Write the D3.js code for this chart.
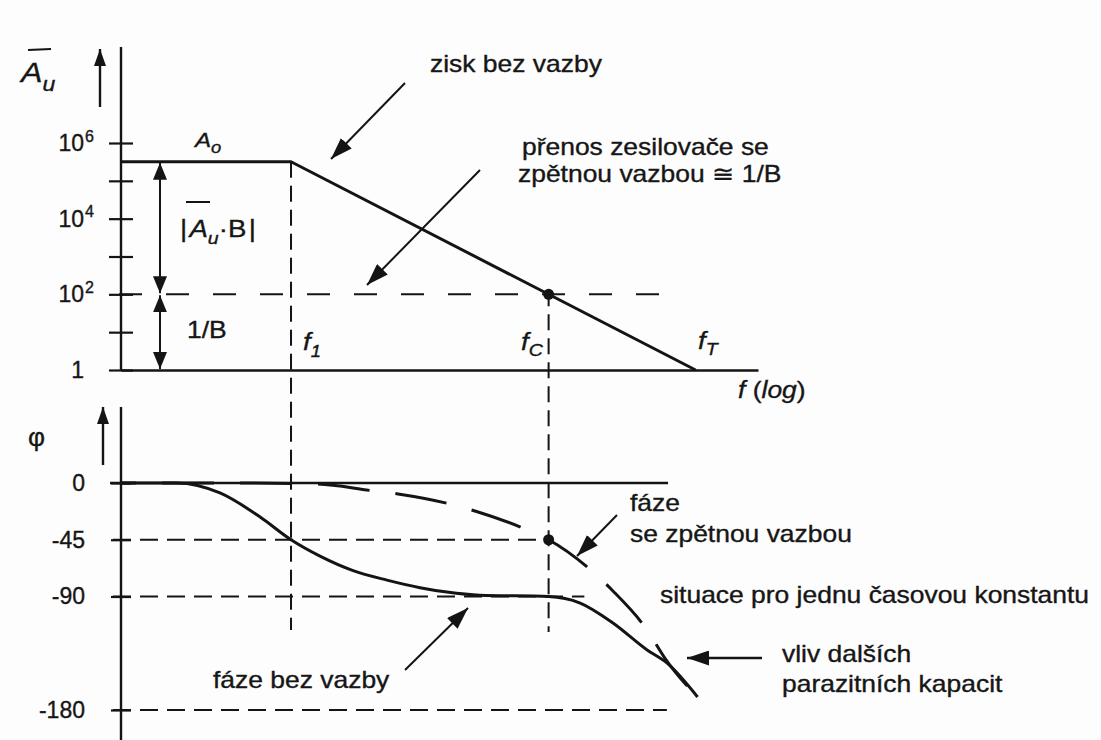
<!DOCTYPE html>
<html>
<head>
<meta charset="utf-8">
<script src="https://cdn.jsdelivr.net/npm/d3@7"></script>
<style>
  html, body { margin: 0; padding: 0; background: #fdfdfd; }
  svg { display: block; }
  text { font-family: "Liberation Sans", Arial, Helvetica, sans-serif; fill: #161616; stroke: #161616; stroke-width: 0.35px; }
</style>
</head>
<body>
<svg id="chart" width="1101" height="740"></svg>
<script>
// ---- characteristic frequencies and gains (log-frequency Bode sketch) ----
const fMin = 0.486;          // left end of the frequency axis
const fMax = 2.26e8;         // right end of the frequency axis
const f1 = 100;              // open-loop pole
const fC = 3.2e5;            // crossing with the 1/B line
const fT = 3.2e7;            // unity-gain frequency
const A0 = 3.2e5;            // open-loop DC gain
const invB = 100;            // closed-loop gain 1/B

// open-loop magnitude |Au|
const gainFreq  = [fMin, f1, fT];
const gainValue = [A0,   A0, 1];

// gain axis ticks (every decade, labels on even decades)
const gainTicks     = [1, 10, 100, 1e3, 1e4, 1e5, 1e6];
const gainLabelBase = ["1", "", "10", "", "10", "", "10"];
const gainLabelExp  = ["",  "", "2",  "", "4",  "", "6"];

// phase axis ticks
const phaseTicks  = [0, -45, -90, -180];
const phaseLabels = ["0", "-45", "-90", "-180"];

// open-loop phase (solid curve)
const phaseOpenFreq  = [0.486, 2.8, 10.8, 38,  100, 248, 700,   2020, 5690, 13200, 37200, 3.2e5, 8.6e5, 2.4e6, 7.0e6,  1.3e7,  3.4e7];
const phaseOpenValue = [0,     0,   -7.9, -27, -45, -58, -69.5, -77,  -83,  -86.5, -89,   -90,   -95.2, -111,  -132.4, -142.7, -169.7];

// closed-loop phase (dashed curve)
const phaseFbFreq  = [0.486, 28, 233,  1190, 2860, 14600, 31800, 1.53e5, 3.2e5, 1.24e6, 2.4e6, 7.0e6,  1.22e7, 3.4e7];
const phaseFbValue = [0,     0,  -0.8, -5.9, -8.7, -16.7, -22.2, -36.5,  -45,   -69.8,  -85.6, -116.6, -138.8, -169.7];

// extents of guide lines
const invBLineEnd   = 1.35e7;
const zeroLineEnd   = 1.35e7;
const m45LineEnd    = fC;
const m90LineEnd    = 9.8e5;
const m180LineEnd   = 1.3e7;
const guidePhaseEnd = -116.5;

// ---- scales ----
const svg = d3.select("#chart");
const ink = "#141414";

const x  = d3.scaleLog().domain([fMin, fMax]).range([121, 758]);
const y1 = d3.scaleLog().domain([1, 1e6]).range([370, 143]);
const y2 = d3.scaleLinear().domain([0, -180]).range([483, 710]);
const axisX = x.range()[0];

// ---- arrowhead markers ----
const defs = svg.append("defs");
function marker(id, len, wid) {
  defs.append("marker")
    .attr("id", id)
    .attr("markerUnits", "userSpaceOnUse")
    .attr("viewBox", `0 0 ${len} ${wid}`)
    .attr("markerWidth", len).attr("markerHeight", wid)
    .attr("refX", len).attr("refY", wid / 2)
    .attr("orient", "auto-start-reverse")
    .append("path")
    .attr("d", `M0,0L${len},${wid / 2}L0,${wid}Z`)
    .attr("fill", ink);
}
marker("headBig", 22, 15);
marker("headMid", 17, 14);
marker("headAxis", 17, 12);

function arrow(x1, yA, x2, yB, head, both, w) {
  const l = svg.append("line")
    .attr("x1", x1).attr("y1", yA).attr("x2", x2).attr("y2", yB)
    .attr("stroke", ink).attr("stroke-width", w || 2)
    .attr("marker-end", `url(#${head})`);
  if (both) l.attr("marker-start", `url(#${head})`);
  return l;
}

function richText(px, py, parts, size, sx) {
  const t = svg.append("text")
    .attr("transform", `translate(${px},${py}) scale(${sx === undefined ? 1.15 : sx},1)`)
    .attr("font-size", size);
  let shift = 0;
  parts.forEach(p => {
    const s = t.append("tspan").text(p.t);
    const target = p.dy || 0;
    s.attr("dy", target - shift);
    shift = target;
    if (p.it) s.attr("font-style", "italic");
    if (p.fs) s.attr("font-size", p.fs);
    if (p.dx) s.attr("dx", p.dx);
  });
  return t;
}

// ================= MAGNITUDE PANEL =================
// vertical axis line and ticks
svg.append("line")
  .attr("x1", axisX).attr("x2", axisX).attr("y1", 47).attr("y2", y1(1))
  .attr("stroke", ink).attr("stroke-width", 2.4);

const gAxis = svg.append("g")
  .attr("transform", `translate(${axisX},0)`)
  .call(d3.axisLeft(y1).tickValues(gainTicks).tickSize(12).tickPadding(25)
        .tickFormat((d, i) => gainLabelBase[i]));
gAxis.select(".domain").remove();
gAxis.attr("font-family", null).attr("font-size", 23);
gAxis.selectAll(".tick line").attr("x1", 12).attr("stroke", ink).attr("stroke-width", 2.2);
gAxis.selectAll(".tick text").attr("fill", ink);
gAxis.selectAll(".tick").each(function (d, i) {
  if (gainLabelExp[i]) {
    d3.select(this).append("text")
      .attr("x", -36).attr("dy", "-0.12em")
      .attr("font-size", 16).attr("fill", ink)
      .attr("text-anchor", "start")
      .text(gainLabelExp[i]);
  }
});

// frequency axis
svg.append("g")
  .attr("transform", `translate(0,${y1(1)})`)
  .call(d3.axisBottom(x).tickValues([]).tickSizeOuter(0))
  .select(".domain").attr("stroke", ink).attr("stroke-width", 2.4);

// guide lines
svg.append("line")
  .attr("x1", axisX - 11).attr("x2", x(invBLineEnd))
  .attr("y1", y1(invB)).attr("y2", y1(invB))
  .attr("stroke", ink).attr("stroke-width", 2)
  .attr("stroke-dasharray", "23 24").attr("stroke-dashoffset", -56);

svg.append("line")
  .attr("x1", x(f1)).attr("x2", x(f1))
  .attr("y1", y1(A0)).attr("y2", y2(guidePhaseEnd))
  .attr("stroke", ink).attr("stroke-width", 2)
  .attr("stroke-dasharray", "16 8");

svg.append("line")
  .attr("x1", x(fC)).attr("x2", x(fC))
  .attr("y1", y1(invB)).attr("y2", y2(guidePhaseEnd) + 2)
  .attr("stroke", ink).attr("stroke-width", 2)
  .attr("stroke-dasharray", "16 8").attr("stroke-dashoffset", 4);

// open-loop gain curve
svg.append("path")
  .datum(gainFreq.map((f, i) => [f, gainValue[i]]))
  .attr("d", d3.line().x(d => x(d[0])).y(d => y1(d[1])))
  .attr("fill", "none").attr("stroke", ink).attr("stroke-width", 3)
  .attr("stroke-linejoin", "round");

svg.append("circle")
  .attr("cx", x(fC)).attr("cy", y1(invB)).attr("r", 5.5).attr("fill", ink);

// loop gain / 1/B dimension arrows
const dimX = 160;
arrow(dimX, y1(A0) + 1, dimX, y1(invB) - 1, "headMid", true, 2);
arrow(dimX, y1(invB) + 1, dimX, y1(1) - 1, "headMid", true, 2);

// axis arrow and label
arrow(100, 107, 100, 49, "headAxis", false, 2.4);
richText(21, 82, [{ t: "A", it: true }, { t: "u", it: true, fs: 20, dy: 9 }], 28);
svg.append("line").attr("x1", 28).attr("x2", 51).attr("y1", 50).attr("y2", 49)
  .attr("stroke", ink).attr("stroke-width", 2.2);

// labels
richText(195, 147, [{ t: "A", it: true }, { t: "o", it: true, fs: 16, dy: 6 }], 21);
richText(180, 237, [{ t: "|" }, { t: "A", it: true, dx: 2 }, { t: "u", it: true, fs: 17, dy: 7 },
                    { t: "·", dy: 0 }, { t: "B" }, { t: "|", dx: 2 }], 24);
svg.append("line").attr("x1", 186).attr("x2", 210).attr("y1", 202).attr("y2", 202)
  .attr("stroke", ink).attr("stroke-width", 2);
richText(187, 338, [{ t: "1/B" }], 23);

richText(303, 350, [{ t: "f", it: true }, { t: "1", it: true, fs: 16, dy: 7 }], 24);
richText(521, 350, [{ t: "f", it: true }, { t: "C", it: true, fs: 17, dy: 6 }], 24);
richText(698, 349, [{ t: "f", it: true }, { t: "T", it: true, fs: 17, dy: 6 }], 24);
richText(738, 398, [{ t: "f", it: true }, { t: " (" }, { t: "log", it: true }, { t: ")" }], 23);

richText(430, 72, [{ t: "zisk bez vazby" }], 23);
arrow(405, 83, 331, 159, "headBig", false, 2);
richText(522, 155, [{ t: "přenos zesilovače se" }], 23);
richText(518, 182, [{ t: "zpětnou vazbou ≅ 1/B" }], 23);
arrow(480, 170, 367, 285, "headBig", false, 2);

// ================= PHASE PANEL =================
svg.append("line")
  .attr("x1", axisX).attr("x2", axisX).attr("y1", 407).attr("y2", 740)
  .attr("stroke", ink).attr("stroke-width", 2.4);

const pAxis = svg.append("g")
  .attr("transform", `translate(${axisX},0)`)
  .call(d3.axisLeft(y2).tickValues(phaseTicks).tickSize(10).tickPadding(26)
        .tickFormat((d, i) => phaseLabels[i]));
pAxis.select(".domain").remove();
pAxis.attr("font-family", null).attr("font-size", 23);
pAxis.selectAll(".tick line").attr("x1", 10).attr("stroke", ink).attr("stroke-width", 2.2);
pAxis.selectAll(".tick text").attr("fill", ink);

// zero line
svg.append("line")
  .attr("x1", axisX - 11).attr("x2", x(zeroLineEnd))
  .attr("y1", y2(0)).attr("y2", y2(0))
  .attr("stroke", ink).attr("stroke-width", 2.4);

// phase guide lines
[[-45, m45LineEnd], [-90, m90LineEnd], [-180, m180LineEnd]].forEach(([p, fe]) => {
  svg.append("line")
    .attr("x1", axisX - 8).attr("x2", x(fe))
    .attr("y1", y2(p)).attr("y2", y2(p))
    .attr("stroke", ink).attr("stroke-width", 2)
    .attr("stroke-dasharray", "18 9");
});

const phaseLine = d3.line().x(d => x(d[0])).y(d => y2(d[1])).curve(d3.curveMonotoneX);

// open-loop phase
svg.append("path")
  .datum(phaseOpenFreq.map((f, i) => [f, phaseOpenValue[i]]))
  .attr("d", phaseLine)
  .attr("fill", "none").attr("stroke", ink).attr("stroke-width", 3);

// closed-loop phase
svg.append("path")
  .datum(phaseFbFreq.map((f, i) => [f, phaseFbValue[i]]))
  .attr("d", phaseLine)
  .attr("fill", "none").attr("stroke", ink).attr("stroke-width", 3)
  .attr("stroke-dasharray", "52 26").attr("stroke-dashoffset", 37);

svg.append("circle")
  .attr("cx", x(fC)).attr("cy", y2(-45)).attr("r", 5.5).attr("fill", ink);

// axis arrow and label
arrow(103, 465, 103, 407, "headAxis", false, 2.4);
richText(28, 446, [{ t: "φ" }], 25, 1.05);

// annotations
richText(630, 511, [{ t: "fáze" }], 23);
richText(630, 542, [{ t: "se zpětnou vazbou" }], 23);
arrow(617, 515, 577, 556, "headBig", false, 2);

richText(660, 603, [{ t: "situace pro jednu časovou konstantu" }], 23);

richText(782, 662, [{ t: "vliv dalších" }], 23);
richText(782, 692, [{ t: "parazitních kapacit" }], 23);
arrow(762, 658, 687, 658, "headBig", false, 2.4);

richText(213, 688, [{ t: "fáze bez vazby" }], 23);
arrow(405, 670, 468, 608, "headBig", false, 2);
</script>
</body>
</html>
